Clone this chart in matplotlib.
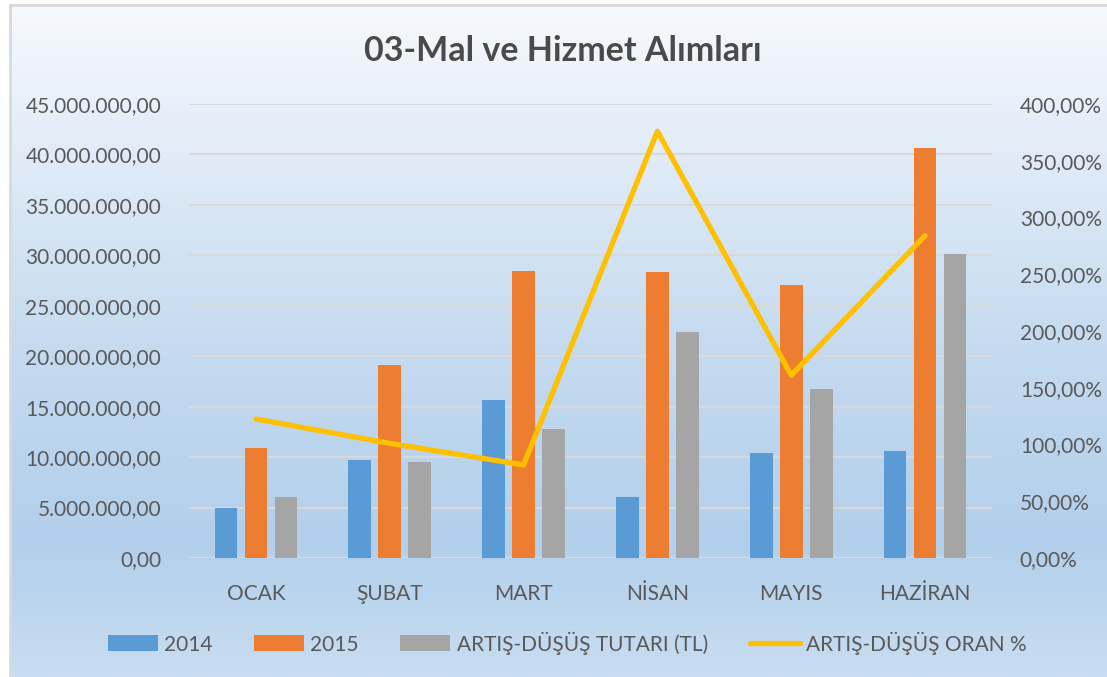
import numpy as np
import matplotlib
matplotlib.use("Agg")
import matplotlib.pyplot as plt
from matplotlib.colors import LinearSegmentedColormap
from matplotlib.ticker import FuncFormatter, MultipleLocator

plt.rcParams['font.family'] = ['Lato', 'DejaVu Sans']

# data
months = ['OCAK', 'ŞUBAT', 'MART', 'NİSAN', 'MAYIS', 'HAZİRAN']
y2014 = [4.95e6, 9.7e6, 15.7e6, 6.05e6, 10.4e6, 10.6e6]
y2015 = [10.9e6, 19.15e6, 28.4e6, 28.3e6, 27.1e6, 40.6e6]
fark = [6.05e6, 9.55e6, 12.8e6, 22.4e6, 16.8e6, 30.1e6]
oran = [122.5, 101.0, 82.0, 376.0, 161.0, 284.0]

txt = '#595959'
W, H = 1107, 677
fig = plt.figure(figsize=(W / 100, H / 100), dpi=100)
fig.patch.set_facecolor('white')

# gradient background of the chart area
bg = fig.add_axes([10 / W, 0, 1 - 10 / W, 1 - 5 / H], zorder=-5)
cmap = LinearSegmentedColormap.from_list('bg', [
    (0.0, (246/255, 249/255, 253/255)),
    (0.5, (198/255, 219/255, 240/255)),
    (0.8, (178/255, 207/255, 235/255)),
    (1.0, (200/255, 221/255, 241/255))])
bg.imshow(np.linspace(0, 1, 256).reshape(-1, 1), aspect='auto', cmap=cmap,
          extent=[0, 1, 0, 1])
bg.set_xlim(0, 1)
bg.set_ylim(0, 1)
for s in bg.spines.values():
    s.set_visible(False)
bg.spines['left'].set_visible(True)
bg.spines['top'].set_visible(True)
bg.spines['left'].set_color('#d9d9d9')
bg.spines['top'].set_color('#d9d9d9')
bg.spines['left'].set_linewidth(2)
bg.spines['top'].set_linewidth(2)
bg.set_xticks([])
bg.set_yticks([])

ax = fig.add_axes([189 / W, 1 - 558 / H, (992 - 189) / W, (558 - 104) / H])
ax.patch.set_alpha(0)
x = np.arange(len(months))
bw = 0.17
step = 0.224
b1 = ax.bar(x - step, y2014, bw, color='#5b9bd5', label='2014', zorder=3)
b2 = ax.bar(x, y2015, bw, color='#ed7d31', label='2015', zorder=3)
b3 = ax.bar(x + step, fark, bw, color='#a5a5a5', label='ARTIŞ-DÜŞÜŞ TUTARI (TL)', zorder=3)
ax.set_xlim(-0.5, len(months) - 0.5)
ax.set_ylim(0, 45e6)
ax.yaxis.set_major_locator(MultipleLocator(5e6))
ax.yaxis.grid(True, color='#d9d9d9', linewidth=1.6, zorder=0)
ax.set_axisbelow(True)
for s in ax.spines.values():
    s.set_visible(False)
ax.axhline(0, color='#d9d9d9', linewidth=1.6, zorder=1)


def tl(v, pos):
    s = f"{v:,.2f}"
    return s.replace(',', 'X').replace('.', ',').replace('X', '.')


ax.yaxis.set_major_formatter(FuncFormatter(tl))
ax.set_xticks(x)
ax.set_xticklabels(months)
ax.tick_params(axis='both', length=0, colors=txt, labelsize=15)
ax.tick_params(axis='x', pad=19)
ax.tick_params(axis='y', pad=20)

ax2 = ax.twinx()
ax2.set_position(ax.get_position())
ln, = ax2.plot(x, oran, color='#ffc000', linewidth=3.8, solid_capstyle='round',
               solid_joinstyle='round', label='ARTIŞ-DÜŞÜŞ ORAN %', zorder=4)
ax2.set_ylim(0, 400)
ax2.yaxis.set_major_locator(MultipleLocator(50))
ax2.yaxis.set_major_formatter(FuncFormatter(lambda v, p: f"{v:.2f}".replace('.', ',') + '%'))
for s in ax2.spines.values():
    s.set_visible(False)
ax2.tick_params(axis='y', length=0, colors=txt, labelsize=15, pad=20)

fig.text(563 / W, 1 - 51 / H, '03-Mal ve Hizmet Alımları', ha='center', va='center',
         fontsize=24.5, fontweight='bold', color='#4a4a4a')

fig.legend(handles=[b1, b2, b3, ln], loc='center', bbox_to_anchor=(567 / W, 1 - 643 / H),
           ncol=4, frameon=False, fontsize=15, labelcolor=txt, handlelength=2.4,
           handleheight=0.8, handletextpad=0.3, columnspacing=2.0)

fig.savefig('out.png', dpi=100)
